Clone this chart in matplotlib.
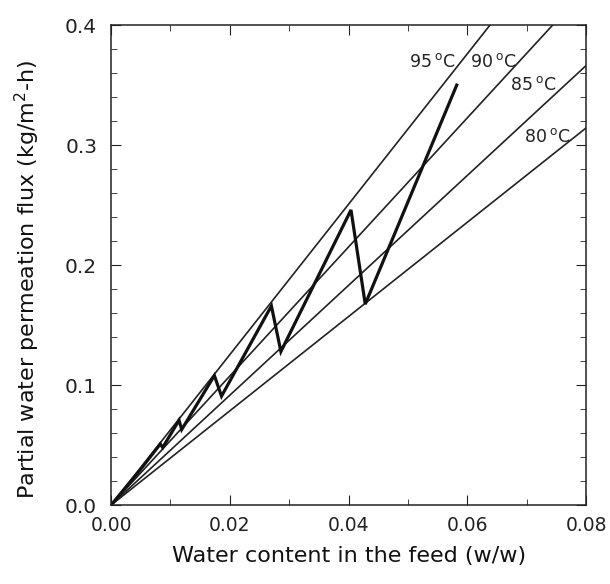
import numpy as np
import matplotlib.pyplot as plt
from matplotlib.ticker import MultipleLocator

plt.rcParams['font.family'] = ['DejaVu Sans']
plt.rcParams['mathtext.default'] = 'regular'

# isotherm lines through the origin: slope of flux vs water content
temps = ['80', '85', '90', '95']
slopes = [3.93, 4.58, 5.38, 6.27]
label_x = [0.0734, 0.0711, 0.0643, 0.0540]
label_y = [0.307, 0.350, 0.369, 0.369]

# zigzag path of the operating trajectory
path_x = [0.0, 0.0020, 0.0050, 0.0083, 0.0087, 0.01145, 0.0119, 0.0174, 0.0186,
          0.0270, 0.0286, 0.0404, 0.0428, 0.0582]
path_y = [0.0, 0.012, 0.030, 0.051, 0.048, 0.0708, 0.063, 0.108, 0.0908,
          0.166, 0.128, 0.246, 0.1675, 0.350]


def main():
    fig = plt.figure(figsize=(6.1, 5.84), dpi=100)
    ax = fig.add_axes([0.182, 0.135, 0.779, 0.822])

    x = np.array([0.0, 0.08])
    for t, s, lx, ly in zip(temps, slopes, label_x, label_y):
        ax.plot(x, s * x, color='#222222', lw=1.2)
        ax.text(lx, ly, t + r'$\,^\mathrm{o}$C', fontsize=12.5, ha='center',
                va='center', color='#222222')

    ax.plot(path_x, path_y, color='#111111', lw=2.3, solid_joinstyle='miter')

    ax.set_xlim(0, 0.08)
    ax.set_ylim(0, 0.4)
    ax.xaxis.set_major_locator(MultipleLocator(0.02))
    ax.xaxis.set_minor_locator(MultipleLocator(0.01))
    ax.yaxis.set_major_locator(MultipleLocator(0.1))
    ax.yaxis.set_minor_locator(MultipleLocator(0.02))
    ax.xaxis.set_major_formatter(plt.FormatStrFormatter('%.2f'))
    ax.yaxis.set_major_formatter(plt.FormatStrFormatter('%.1f'))
    ax.tick_params(which='both', direction='in', top=True, right=True,
                   colors='#222222')
    ax.tick_params(which='major', length=7)
    ax.tick_params(which='minor', length=4.5)
    ax.tick_params(axis='x', which='major', labelsize=13.5, pad=8)
    ax.tick_params(axis='y', which='major', labelsize=14.5, pad=10)
    for sp in ax.spines.values():
        sp.set_linewidth(1.1)
        sp.set_color('#222222')

    ax.set_xlabel('Water content in the feed (w/w)', fontsize=16,
                  color='#111111', va='center')
    ax.set_ylabel('Partial water permeation flux (kg/m$^2$-h)', fontsize=16,
                  color='#111111', va='center')
    ax.xaxis.set_label_coords(0.5, -0.105)
    ax.yaxis.set_label_coords(-0.175, 0.47)

    fig.savefig('out.png', dpi=100)


if __name__ == '__main__':
    main()
